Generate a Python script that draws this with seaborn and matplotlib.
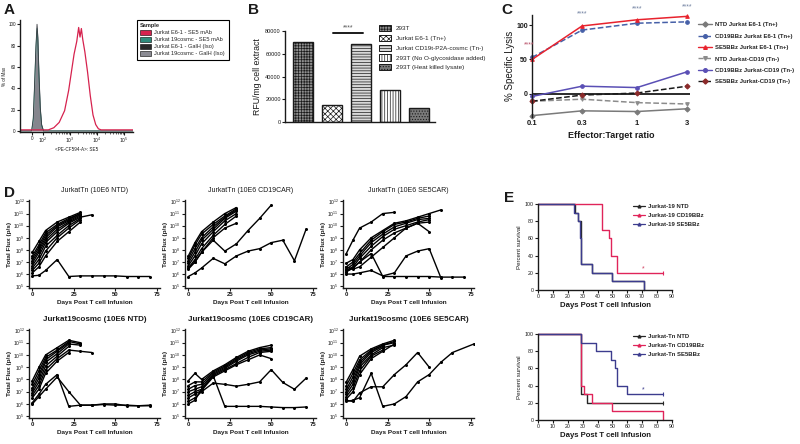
import matplotlib
matplotlib.use("Agg")
import matplotlib.pyplot as plt
from matplotlib.patches import Patch
from matplotlib.lines import Line2D
from matplotlib.ticker import NullLocator, FixedLocator
import numpy as np
import pandas as pd
import seaborn as sns

sns.set_style("ticks")
plt.rcParams['font.family'] = ['Liberation Sans', 'DejaVu Sans']
plt.rcParams['hatch.linewidth'] = 0.5
INK = '#1a1a1a'

# ---------------- A: flow histogram (x in decades, y = % of max)
a_red_x = [1.15, 2.2, 2.4, 2.6, 2.8, 2.95, 3.05, 3.15, 3.25, 3.32, 3.37, 3.42, 3.47, 3.55, 3.65, 3.75, 3.85, 3.95, 4.05, 4.15, 5.33]
a_red_y = [1, 1, 3, 8, 19, 38, 55, 72, 84, 97, 88, 96, 86, 74, 55, 33, 15, 6, 2, 1, 1]
a_gray_x = [1.15, 1.58, 1.64, 1.69, 1.74, 1.78, 1.81, 1.85, 1.9, 1.95, 2.02, 5.33]
a_gray_y = [0, 0, 12, 45, 80, 100, 88, 55, 22, 6, 0, 0]
a_teal_y = [0, 0, 10, 42, 78, 96, 85, 52, 20, 5, 0, 0]
a_samples = ['Jurkat E6-1 - SE5 mAb', 'Jurkat 19cosmc - SE5 mAb',
             'Jurkat E6-1 - GalH (Iso)', 'Jurkat 19cosmc - GalH (Iso)']
a_colors = ['#d6224e', '#2f8c7c', '#2a2a2a', '#8a8a92']

# ---------------- B: bars
b_labels = ['293T', 'Jurkat E6-1 (Tn+)', 'Jurkat CD19t-P2A-cosmc (Tn-)',
            '293T (No O-glycosidase added)', '293T (Heat killed lysate)']
b_values = [70500, 15000, 69000, 28000, 12000]
b_faces = ['#8e8e8e', '#ffffff', '#d8d8d8', '#ffffff', '#7a7a7a']
b_hatch = ['++++++', 'xxxxxx', '------', '||||||', '......']

# ---------------- C: specific lysis
c_ratio = [0.1, 0.3, 1, 3]
c_ntd_e6 = [-32, -25, -26, -22]
c_cd19_e6 = [53, 93, 103, 105]
c_se5_e6 = [50, 99, 108, 113]
c_ntd_cd19 = [-11, -8, -13, -15]
c_cd19_cd19 = [-4, 11, 9, 32]
c_se5_cd19 = [-11, -2, 1, 11]
c_names = ['NTD Jurkat E6-1 (Tn+)', 'CD19BBz Jurkat E6-1 (Tn+)', 'SE5BBz Jurkat E6-1 (Tn+)',
           'NTD Jurkat-CD19 (Tn-)', 'CD19BBz Jurkat-CD19 (Tn-)', 'SE5BBz Jurkat-CD19 (Tn-)']

# ---------------- D: BLI, log10 total flux per mouse at d_days
d_days = [0, 4, 8, 15, 22, 29, 36, 43, 50, 57, 64, 71, 77]
d_tn_ntd = [
    [7.8, 8.7, 9.6, 10.3, 10.7, 11.1],
    [7.5, 8.4, 9.4, 10.1, 10.6, 11.0],
    [7.3, 8.2, 9.2, 10.0, 10.5, 11.0],
    [7.1, 8.0, 9.0, 9.9, 10.4, 10.9],
    [6.9, 7.8, 8.8, 9.7, 10.3, 10.8],
    [6.7, 7.5, 8.6, 9.5, 10.2, 10.7, 10.9],
    [6.5, 7.2, 8.3, 9.2, 10.0, 10.6],
    [6.3, 6.9, 7.9, 9.0, 9.8, 10.5],
    [6.1, 6.6, 7.5, 8.7, 9.5, 10.3],
    [5.85, 5.9, 6.3, 7.2, 5.8, 5.85, 5.85, 5.85, 5.85, 5.8, 5.8, 5.8],
]
d_tn_cd19 = [
    [7.5, 8.6, 9.5, 10.3, 11.0, 11.5],
    [7.3, 8.4, 9.3, 10.1, 10.8, 11.4],
    [7.1, 8.1, 9.0, 9.9, 10.7, 11.3],
    [6.9, 7.8, 8.8, 9.7, 10.6, 11.2],
    [6.7, 7.5, 8.5, 9.5, 10.4, 11.0],
    [6.5, 7.2, 8.1, 9.2, 10.1, 10.8],
    [6.4, 7.0, 7.8, 9.0, 9.8, 10.2],
    [6.5, 7.0, 7.8, 8.8, 7.9, 8.5, 9.6, 10.6, 11.7],
    [5.8, 6.1, 6.5, 7.3, 6.85, 7.5, 7.9, 8.1, 8.6, 8.8, 7.1, 9.7],
]
d_tn_se5 = [
    [7.7, 8.8, 9.8, 10.3, 11.0, 11.1],
    [6.9, 7.2, 8.0, 9.0, 9.6, 10.2, 10.4, 10.7, 11.0, 11.3],
    [6.6, 7.0, 7.7, 8.8, 9.5, 10.1, 10.3, 10.6, 10.8],
    [6.4, 6.8, 7.5, 8.6, 9.3, 9.9, 10.2, 10.5, 10.6],
    [6.3, 6.6, 7.3, 8.3, 9.1, 9.7, 10.0, 10.3, 10.5],
    [6.2, 6.5, 7.0, 8.0, 8.8, 9.4, 9.8, 10.2, 9.5],
    [6.6, 6.4, 6.6, 7.4, 8.2, 9.0, 9.8, 10.2, 10.3],
    [6.2, 6.5, 7.0, 7.7, 5.8, 5.8, 5.8, 5.8, 5.8, 5.75, 5.75, 5.75],
    [6.0, 6.0, 6.1, 6.3, 5.85, 6.1, 7.5, 7.9, 8.1, 5.7],
]
d_19_ntd = [
    [7.9, 9.0, 10.0, 10.6, 11.2, 11.0],
    [7.6, 8.7, 9.8, 10.4, 11.1, 10.9],
    [7.3, 8.4, 9.6, 10.3, 11.0],
    [7.1, 8.1, 9.4, 10.1, 10.9, 10.8],
    [6.9, 7.8, 9.1, 9.9, 10.7],
    [6.7, 7.5, 8.8, 9.7, 10.4, 10.3, 10.2],
    [6.5, 7.2, 8.5, 9.5, 10.2],
    [6.1, 6.8, 7.6, 8.4, 5.8, 5.9, 5.9, 6.0, 6.0, 5.85, 5.85, 5.85],
    [6.0, 6.6, 7.2, 8.2, 7.0, 5.9, 5.9, 5.95, 5.9, 5.9, 5.85, 5.9],
]
d_19_cd19 = [
    [7.9, 8.5, 8.0, 8.7, 9.2, 9.8, 10.3, 10.6, 10.8],
    [7.5, 7.8, 7.8, 8.6, 9.1, 9.7, 10.2, 10.5, 10.6],
    [7.2, 7.5, 7.6, 8.5, 9.0, 9.6, 10.1, 10.4, 10.5],
    [7.0, 7.2, 7.4, 8.4, 8.9, 9.5, 10.0, 10.3, 10.4],
    [6.7, 7.0, 7.2, 8.3, 8.8, 9.3, 9.8, 10.2, 10.3],
    [6.5, 6.8, 7.1, 8.2, 8.7, 9.2, 9.6, 10.0, 9.7],
    [6.2, 6.5, 7.0, 7.7, 7.6, 7.45, 7.6, 7.8, 8.8, 7.75, 7.2, 8.1],
    [6.0, 6.3, 7.2, 8.3, 5.8, 5.8, 5.8, 5.8, 5.75, 5.7, 5.7, 5.75],
]
d_19_se5 = [
    [7.8, 8.8, 9.9, 10.5, 10.9, 11.2],
    [7.5, 8.5, 9.6, 10.4, 10.8, 11.1],
    [7.2, 8.2, 9.4, 10.3, 10.8, 11.0],
    [7.0, 7.9, 9.2, 10.2, 10.7],
    [6.8, 7.6, 9.0, 10.0, 10.6, 10.8],
    [6.6, 7.3, 8.7, 9.9, 10.4],
    [6.4, 7.0, 8.4, 9.7, 10.3, 10.9],
    [6.2, 6.3, 6.5, 8.5, 5.8, 6.0, 6.6, 7.8, 8.4, 9.4, 10.2, None, 10.9],
    [6.3, 6.2, 6.9, 7.4, 7.4, 8.4, 9.2, 10.2, 9.0],
]
d_titles = ['JurkatTn (10E6 NTD)', 'JurkatTn (10E6 CD19CAR)', 'JurkatTn (10E6 SE5CAR)',
            'Jurkat19cosmc (10E6 NTD)', 'Jurkat19cosmc (10E6 CD19CAR)', 'Jurkat19cosmc (10E6 SE5CAR)']

# ---------------- E: survival (step curves)
e19_ntd_x = [0, 25, 27, 29, 36, 50, 71]
e19_ntd_y = [100, 90, 80, 30, 20, 10, 0]
e19_cd19_x = [0, 43, 48, 49, 53, 84]
e19_cd19_y = [100, 70, 60, 40, 20, 20]
e19_se5_x = [0, 24, 27, 28, 29, 36, 50, 71]
e19_se5_y = [100, 90, 80, 60, 30, 20, 10, 0]
etn_ntd_x = [0, 29, 33, 84]
etn_ntd_y = [100, 30, 20, 20]
etn_cd19_x = [0, 29, 31, 36, 50, 84]
etn_cd19_y = [100, 40, 30, 20, 10, 0]
etn_se5_x = [0, 29, 39, 49, 52, 53, 60, 84]
etn_se5_y = [100, 90, 80, 70, 60, 40, 30, 30]


def rect(l, t, r, b):
    return [l / 800, 1 - b / 444, (r - l) / 800, (b - t) / 444]


def style_ax(ax, size=4):
    for s in ['top', 'right']:
        ax.spines[s].set_visible(False)
    for s in ['left', 'bottom']:
        ax.spines[s].set_linewidth(1.0)
        ax.spines[s].set_color(INK)
    ax.tick_params(labelsize=size, length=2, width=0.8, pad=1, colors=INK)


fig = plt.figure(figsize=(8, 4.44), dpi=100)

# panel letters
for letter, x, y in [('A', 4, 3), ('B', 248, 3), ('C', 501, 3), ('D', 4, 186), ('E', 504, 191)]:
    fig.text(x / 800, 1 - y / 444, letter, fontsize=11, fontweight='bold', va='top', color=INK)

# ===== A
ax = fig.add_axes(rect(20, 20, 133, 132))
ax.fill_between(a_gray_x, a_gray_y, color='#85858d', lw=0)
sns.lineplot(x=a_gray_x, y=a_teal_y, ax=ax, color=a_colors[1], lw=0.6, sort=False)
sns.lineplot(x=a_gray_x, y=a_gray_y, ax=ax, color='#3a3a40', lw=0.6, sort=False)
sns.lineplot(x=a_red_x, y=a_red_y, ax=ax, color=a_colors[0], lw=0.9, sort=False)
ax.set_xlim(1.15, 5.33)
ax.set_ylim(-1, 104)
ax.set_yticks([0, 20, 40, 60, 80, 100])
ax.set_xticks([1.6, 2, 3, 4, 5])
ax.set_xticklabels(['0', '$10^2$', '$10^3$', '$10^4$', '$10^5$'])
ax.xaxis.set_minor_locator(FixedLocator([d + np.log10(k) for d in (2, 3, 4) for k in range(2, 10)]))
style_ax(ax, 3.3)
ax.tick_params(axis='x', which='minor', length=1.2, width=0.5)
ax.set_xlabel('<PE-CF594-A>: SE5', fontsize=3.3, labelpad=1, color=INK)
ax.set_ylabel('% of Max', fontsize=3.3, labelpad=1, color=INK)
a_handles = [Patch(facecolor=c, edgecolor='black', lw=0.4) for c in a_colors]
fig.legend(a_handles, a_samples, title='Sample', loc='upper left',
           bbox_to_anchor=(134 / 800, 1 - 17 / 444), fontsize=4.1,
           title_fontproperties={'weight': 'bold', 'size': 4.1}, alignment='left',
           frameon=True, fancybox=False, edgecolor='black', framealpha=1,
           borderpad=0.6, handlelength=1.8, handleheight=0.9, labelspacing=0.3,
           handletextpad=0.7).get_frame().set_linewidth(0.8)

# ===== B
ax = fig.add_axes(rect(285, 31, 435, 122))
sns.barplot(x=b_labels, y=b_values, ax=ax, color='white', width=0.69,
            edgecolor=INK, linewidth=1.0, errorbar=None)
for bar, fc, h in zip(ax.patches, b_faces, b_hatch):
    bar.set_facecolor(fc)
    bar.set_hatch(h)
ax.set_xlim(-0.64, 4.57)
ax.set_ylim(0, 80000)
ax.set_yticks([0, 20000, 40000, 60000, 80000])
ax.set_xticks([])
style_ax(ax, 4)
ax.set_ylabel('RFU/mg cell extract', fontsize=6.3, labelpad=2, color=INK)
ax.plot([1.03, 2.07], [78000, 78000], color=INK, lw=1.4, clip_on=False)
ax.text(1.55, 79500, '****', ha='center', va='bottom', fontsize=5, color='#555', clip_on=False)
b_handles = [Patch(facecolor=fc, edgecolor=INK, hatch=h, lw=0.7) for fc, h in zip(b_faces, b_hatch)]
fig.legend(b_handles, b_labels, loc='upper left', bbox_to_anchor=(376 / 800, 1 - 22 / 444),
           fontsize=4.6, frameon=False, handlelength=1.9, handleheight=1.1,
           labelspacing=0.55, handletextpad=0.7, borderpad=0)

# ===== C
ax = fig.add_axes(rect(532, 15, 690, 117))
c_series = [c_ntd_e6, c_cd19_e6, c_se5_e6, c_ntd_cd19, c_cd19_cd19, c_se5_cd19]
c_lcol = ['#7a7a7a', '#4660a8', '#e8232e', '#8c8c8c', '#5a4fb5', '#1a1a1a']
c_mcol = ['#7a7a7a', '#4660a8', '#e8232e', '#8c8c8c', '#5a4fb5', '#8b2a2a']
c_ls = ['-', '--', '-', '--', '-', '--']
c_mk = ['D', 'o', '^', 'v', 'o', 'D']
ax.axhline(0, color=INK, lw=1.3, zorder=1)
for vals, lc, mc, ls, mk in zip(c_series, c_lcol, c_mcol, c_ls, c_mk):
    sns.lineplot(x=c_ratio, y=vals, ax=ax, color=lc, ls=ls, lw=1.1, marker=mk,
                 markersize=2.6, markerfacecolor=mc, markeredgecolor=mc, clip_on=False)
ax.set_xscale('log')
ax.set_xlim(0.1, 3.2)
ax.set_ylim(-34, 115)
ax.set_yticks([0, 50, 100])
ax.set_xticks(c_ratio)
ax.set_xticklabels(['0.1', '0.3', '1', '3'])
ax.xaxis.set_minor_locator(NullLocator())
style_ax(ax, 5)
ax.spines['bottom'].set_visible(False)
ax.tick_params(axis='x', length=0, pad=2, labelsize=5.5)
for t in ax.get_xticklabels() + ax.get_yticklabels():
    t.set_fontweight('bold')
ax.set_ylabel('% Specific Lysis', fontsize=7, labelpad=1, color=INK)
ax.set_xlabel('Effector:Target ratio', fontsize=6.5, fontweight='bold', labelpad=3, color=INK)
for x, y, col in [(0.095, 66, '#b85068'), (0.3, 112, '#7080a0'), (1, 119, '#7080a0'), (3, 122, '#7080a0')]:
    ax.text(x, y, '****', ha='center', va='bottom', fontsize=5, color=col, clip_on=False)
c_handles = [Line2D([], [], color=lc, ls=ls, lw=1, marker=mk, ms=2.6, mfc=mc, mec=mc)
             for lc, mc, ls, mk in zip(c_lcol, c_mcol, c_ls, c_mk)]
fig.legend(c_handles, c_names, loc='upper left', bbox_to_anchor=(695 / 800, 1 - 19 / 444),
           fontsize=4.3, prop={'weight': 'bold', 'size': 4.3}, frameon=False,
           handlelength=2.3, labelspacing=1.05, handletextpad=0.6, borderpad=0)


# ===== D
def flux_frame(mice):
    rows = []
    for i, vals in enumerate(mice):
        for day, v in zip(d_days, vals):
            if v is not None:
                rows.append((i, day, 10 ** v))
    return pd.DataFrame(rows, columns=['mouse', 'day', 'flux'])


d_sets = [d_tn_ntd, d_tn_cd19, d_tn_se5, d_19_ntd, d_19_cd19, d_19_se5]
d_x0 = [29, 185, 343]
for k, mice in enumerate(d_sets):
    row, col = divmod(k, 3)
    top, bot = (200, 288) if row == 0 else (329, 418)
    ax = fig.add_axes(rect(d_x0[col], top, d_x0[col] + 131, bot))
    sns.lineplot(data=flux_frame(mice), x='day', y='flux', units='mouse', estimator=None,
                 sort=False, color='black', lw=1.0, marker='o', markersize=2.2,
                 markeredgewidth=0, ax=ax)
    ax.set_yscale('log')
    ax.set_ylim(10 ** 4.85, 10 ** 12.12)
    ax.set_yticks([10.0 ** e for e in range(5, 13)])
    ax.yaxis.set_minor_locator(NullLocator())
    ax.set_xlim(-2, 77)
    ax.set_xticks([0, 25, 50, 75])
    style_ax(ax, 3.6)
    ax.tick_params(axis='x', labelsize=4.3)
    for t in ax.get_xticklabels():
        t.set_fontweight('bold')
    ax.set_xlabel('Days Post T cell Infusion', fontsize=4.6, fontweight='bold', labelpad=2, color=INK)
    ax.set_ylabel('Total Flux (p/s)', fontsize=4.6, fontweight='bold', labelpad=1, color=INK)
    ax.set_title(d_titles[k], fontsize=5.8 if row else 5.0,
                 fontweight='bold' if row else 'normal', pad=6, color=INK)

# ===== E
e_sets = [
    [(e19_ntd_x, e19_ntd_y, '#262626', False), (e19_cd19_x, e19_cd19_y, '#e0245a', True),
     (e19_se5_x, e19_se5_y, '#3c3c8e', False)],
    [(etn_ntd_x, etn_ntd_y, '#262626', True), (etn_cd19_x, etn_cd19_y, '#e0245a', False),
     (etn_se5_x, etn_se5_y, '#3c3c8e', True)],
]
e_names = [['Jurkat-19 NTD', 'Jurkat-19 CD19BBz', 'Jurkat-19 SE5BBz'],
           ['Jurkat-Tn NTD', 'Jurkat-Tn CD19BBz', 'Jurkat-Tn SE5BBz']]
e_star = [(71, 21, '#d04060'), (71, 31, '#3c3c8e')]
for k, (top, bot) in enumerate([(204, 290), (334, 420)]):
    ax = fig.add_axes(rect(538, top, 672, bot))
    for xs, ys, col, cens in e_sets[k]:
        sns.lineplot(x=xs, y=ys, ax=ax, color=col, lw=1.0, drawstyle='steps-post', clip_on=False)
        if cens:
            ax.plot(xs[-1], ys[-1], marker='|', color=col, ms=3, mew=0.8, clip_on=False)
    ax.set_xlim(0, 90)
    ax.set_ylim(0, 100)
    ax.set_xticks(range(0, 91, 10))
    ax.set_yticks(range(0, 101, 20))
    style_ax(ax, 3.8)
    ax.set_xlabel('Days Post T cell Infusion', fontsize=5.6, fontweight='bold', labelpad=2, color=INK)
    ax.set_ylabel('Percent survival', fontsize=4.4, labelpad=2, color=INK)
    sx, sy, scol = e_star[k]
    ax.text(sx, sy, '*', ha='center', va='bottom', fontsize=5, color=scol)
    e_handles = [Line2D([], [], color=c, lw=0.9, marker='^', ms=2) for _, _, c, _ in e_sets[k]]
    fig.legend(e_handles, e_names[k], loc='upper left',
               bbox_to_anchor=(630 / 800, 1 - (top - 3) / 444), fontsize=4.3,
               prop={'weight': 'bold', 'size': 4.3}, frameon=False, handlelength=2,
               labelspacing=0.6, handletextpad=0.5, borderpad=0)

fig.savefig('out.png', dpi=100)
